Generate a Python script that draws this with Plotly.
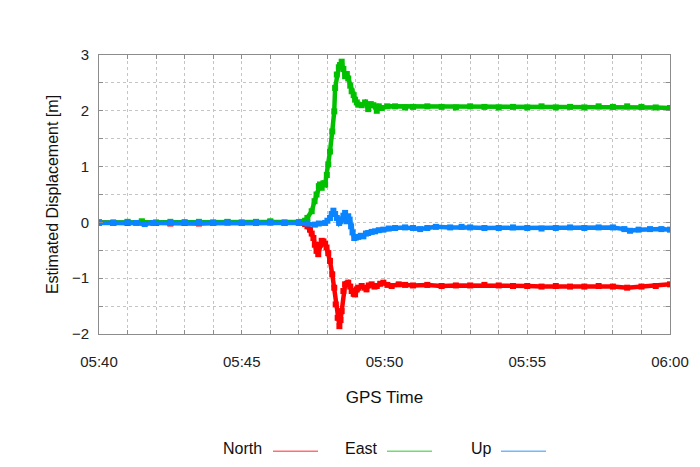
import pandas as pd
import plotly.graph_objects as go

# time offsets in minutes after 05:40:00
north_t = [0, 0.5, 1, 1.5, 2, 2.5, 3, 3.5, 4, 4.5, 5, 5.5, 6, 6.5, 7.0, 7.1, 7.22, 7.3, 7.39, 7.45,
           7.51, 7.56, 7.62, 7.68, 7.74, 7.8, 7.86, 7.92, 7.97, 8.03, 8.09, 8.17, 8.24, 8.29, 8.36,
           8.42, 8.46, 8.5, 8.56, 8.62, 8.68, 8.73, 8.8, 8.85, 8.92, 8.97, 9.03, 9.08, 9.2, 9.3,
           9.37, 9.45, 9.55, 9.65, 9.73, 9.85, 9.96, 10.1, 10.25, 10.5, 10.72, 11, 11.5, 12, 12.5,
           13, 13.5, 14, 14.5, 15, 15.5, 16, 16.5, 17, 17.5, 18, 18.5, 19, 19.5, 20]
north_v = [0.0, -0.01, -0.01, 0.0, -0.01, -0.02, -0.01, -0.02, -0.01, 0.0, -0.01, -0.01, 0.0, -0.01,
           0.0, -0.01, -0.03, -0.07, -0.13, -0.2, -0.28, -0.4, -0.51, -0.57, -0.4, -0.33, -0.34,
           -0.38, -0.45, -0.55, -0.69, -0.93, -1.17, -1.47, -1.71, -1.86, -1.75, -1.59, -1.23,
           -1.11, -1.1, -1.08, -1.15, -1.23, -1.28, -1.29, -1.2, -1.17, -1.14, -1.17, -1.2, -1.13,
           -1.11, -1.15, -1.14, -1.1, -1.08, -1.12, -1.14, -1.11, -1.12, -1.13, -1.12, -1.14, -1.13,
           -1.13, -1.12, -1.13, -1.14, -1.14, -1.15, -1.14, -1.15, -1.15, -1.14, -1.15, -1.17,
           -1.15, -1.14, -1.11]

east_t = [0, 0.5, 1, 1.5, 2, 2.5, 3, 3.5, 4, 4.5, 5, 5.5, 6, 6.5, 7.0, 7.1, 7.22, 7.3, 7.45, 7.55,
          7.62, 7.7, 7.74, 7.8, 7.86, 7.92, 7.98, 8.03, 8.09, 8.17, 8.24, 8.27, 8.33, 8.4, 8.44,
          8.5, 8.56, 8.62, 8.68, 8.73, 8.8, 8.85, 8.92, 8.97, 9.03, 9.08, 9.2, 9.32, 9.43, 9.52,
          9.61, 9.73, 9.8, 9.9, 10.1, 10.37, 10.72, 11, 11.5, 12, 12.5, 13, 13.5, 14, 14.5, 15,
          15.5, 16, 16.5, 17, 17.5, 18, 18.5, 19, 19.5, 20]
east_v = [0.0, 0.0, 0.01, 0.02, 0.0, 0.01, 0.0, 0.01, 0.0, 0.01, 0.0, 0.01, 0.02, 0.0, 0.0, 0.01,
          0.03, 0.08, 0.2, 0.38, 0.5, 0.65, 0.68, 0.62, 0.7, 0.68, 0.85, 1.04, 1.27, 1.63, 1.99,
          2.41, 2.65, 2.78, 2.82, 2.88, 2.75, 2.62, 2.66, 2.58, 2.45, 2.35, 2.28, 2.2, 2.15, 2.11,
          2.1, 2.15, 2.03, 2.12, 2.1, 2.0, 2.08, 2.05, 2.08, 2.08, 2.06, 2.07, 2.08, 2.07, 2.06,
          2.08, 2.07, 2.06, 2.07, 2.06, 2.08, 2.06, 2.07, 2.06, 2.08, 2.07, 2.08, 2.07, 2.06, 2.05]

up_t = [0, 0.5, 1, 1.3, 1.6, 1.9, 2.5, 3, 3.5, 4, 4.5, 5, 5.5, 6, 6.5, 7.0, 7.3, 7.56, 7.7, 7.92,
        8.0, 8.09, 8.15, 8.21, 8.27, 8.33, 8.41, 8.46, 8.5, 8.56, 8.62, 8.68, 8.73, 8.78, 8.83,
        8.88, 8.94, 9.0, 9.08, 9.17, 9.26, 9.35, 9.43, 9.55, 9.67, 9.8, 9.96, 10.15, 10.37, 10.72,
        11, 11.25, 11.5, 11.8, 12.3, 12.7, 13, 13.5, 14, 14.5, 15, 15.5, 16, 16.5, 17, 17.5, 18,
        18.4, 18.6, 18.9, 19.3, 19.7, 20]
up_v = [-0.01, -0.01, 0.0, -0.01, -0.03, -0.01, -0.01, 0.0, -0.01, -0.01, 0.0, -0.01, -0.01, 0.0,
        -0.01, -0.01, -0.02, -0.04, -0.02, -0.01, 0.03, 0.08, 0.15, 0.21, 0.15, 0.08, -0.01, 0.02,
        0.05, 0.12, 0.17, 0.02, 0.11, 0.05, -0.07, -0.18, -0.28, -0.27, -0.26, -0.24, -0.25, -0.2,
        -0.19, -0.17, -0.16, -0.14, -0.13, -0.11, -0.1, -0.09, -0.1, -0.12, -0.1, -0.08, -0.09,
        -0.08, -0.09, -0.1, -0.1, -0.09, -0.1, -0.11, -0.1, -0.09, -0.1, -0.09, -0.09, -0.12,
        -0.15, -0.13, -0.12, -0.12, -0.13]

series_names = ["North", "East", "Up"]
series_colors = ["#ff0000", "#00c000", "#0a84ff"]
legend_colors = ["#ff7070", "#70dd70", "#70b8ff"]

base = pd.Timestamp("2024-01-01 05:40:00")


def to_time(mins):
    return [base + pd.Timedelta(minutes=m) for m in mins]


FONT = "Liberation Sans, Arial, sans-serif"
fig = go.Figure()
for name, t, v, c in zip(series_names, [north_t, east_t, up_t], [north_v, east_v, up_v], series_colors):
    fig.add_trace(go.Scatter(
        x=to_time(t), y=v, name=name, mode="lines+markers",
        line=dict(color=c, width=4.5),
        marker=dict(symbol="square", size=6, color=c),
        showlegend=False,
    ))

grid = "#c4c4c4"
frame = "#8c8c8c"
fig.update_xaxes(
    type="date", range=[base, base + pd.Timedelta(minutes=20)],
    dtick=5 * 60 * 1000, tickformat="%H:%M",
    showgrid=True, gridcolor=grid, griddash="dot", gridwidth=1,
    ticks="inside", ticklen=4, tickcolor=frame, ticklabelstandoff=14,
    minor=dict(dtick=60 * 1000, showgrid=True, gridcolor=grid, griddash="dot",
               ticks="inside", ticklen=4, tickcolor=frame),
    showline=True, linecolor=frame, linewidth=1, mirror="ticks",
    zeroline=False,
    tickfont=dict(family=FONT, size=15, color="#222"),
    title=dict(text="GPS Time", font=dict(family=FONT, size=17, color="#111"), standoff=22),
)
fig.update_yaxes(
    range=[-2, 3], dtick=1,
    showgrid=True, gridcolor=grid, griddash="dot", gridwidth=1,
    ticks="inside", ticklen=4, tickcolor=frame, ticklabelstandoff=6,
    minor=dict(dtick=0.5, showgrid=True, gridcolor=grid, griddash="dot",
               ticks="inside", ticklen=4, tickcolor=frame),
    showline=True, linecolor=frame, linewidth=1, mirror="ticks",
    zeroline=False,
    tickfont=dict(family=FONT, size=15, color="#222"),
    title=dict(text="Estimated Displacement [m]", font=dict(family=FONT, size=16, color="#111"),
               standoff=9),
)

# plot box in screen pixels; the page body adds an 8px offset
OFF = 8
L, R, T, B = 99, 670, 55, 334.5
W, H = R - L, B - T


def px(x):
    return (x - L) / W


def py(y):
    return (B - y) / H


legend_text_x = [221, 343, 469]
legend_line_x = [(273, 318), (387, 432), (501, 546)]
for name, tx, (x0, x1), lc in zip(series_names, legend_text_x, legend_line_x, legend_colors):
    fig.add_annotation(x=px(tx), y=py(449), xref="paper", yref="paper", text=name,
                       showarrow=False, xanchor="left", yanchor="middle",
                       font=dict(family=FONT, size=16, color="#111"))
    fig.add_shape(type="line", xref="paper", yref="paper", x0=px(x0), x1=px(x1),
                  y0=py(452), y1=py(452), line=dict(color=lc, width=1.5))

fig.update_layout(
    width=700, height=467,
    margin=dict(l=L - OFF, r=700 - R + OFF, t=T - OFF, b=467 - B + OFF),
    paper_bgcolor="white", plot_bgcolor="white",
    showlegend=False,
)
fig.write_html("out.html")
